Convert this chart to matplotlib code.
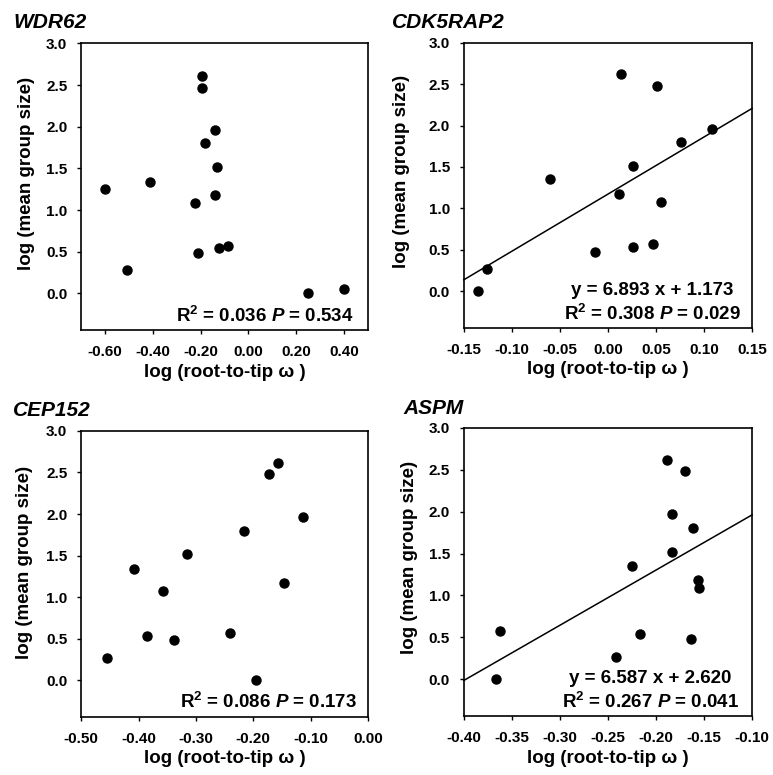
import numpy as np
import matplotlib
matplotlib.use('Agg')
import matplotlib.pyplot as plt

plt.rcParams['font.family'] = ['Liberation Sans', 'DejaVu Sans']
plt.rcParams['font.weight'] = 'bold'
plt.rcParams['mathtext.fontset'] = 'custom'
plt.rcParams['mathtext.rm'] = 'Liberation Sans:bold'
plt.rcParams['mathtext.it'] = 'Liberation Sans:bold:italic'
plt.rcParams['mathtext.bf'] = 'Liberation Sans:bold'

# data
wdr62_x = [-0.60, -0.51, -0.413, -0.195, -0.195, -0.14, -0.18, -0.133, -0.14,
           -0.223, -0.211, -0.125, -0.086, 0.25, 0.40]
wdr62_y = [1.25, 0.28, 1.34, 2.61, 2.47, 1.96, 1.80, 1.52, 1.18,
           1.08, 0.48, 0.54, 0.57, 0.00, 0.05]

cdk_x = [-0.135, -0.126, -0.060, 0.0134, 0.051, 0.108, 0.076, 0.026, 0.012,
         0.055, -0.013, 0.026, 0.047]
cdk_y = [0.00, 0.27, 1.35, 2.62, 2.48, 1.96, 1.80, 1.51, 1.17,
         1.08, 0.48, 0.53, 0.57]

cep_x = [-0.455, -0.408, -0.385, -0.358, -0.338, -0.315, -0.240, -0.216,
         -0.195, -0.173, -0.156, -0.146, -0.113]
cep_y = [0.265, 1.34, 0.535, 1.08, 0.48, 1.52, 0.565, 1.80,
         0.00, 2.48, 2.61, 1.17, 1.97]

aspm_x = [-0.367, -0.362, -0.2415, -0.225, -0.217, -0.189, -0.170, -0.183,
          -0.162, -0.183, -0.156, -0.155, -0.164]
aspm_y = [0.00, 0.57, 0.27, 1.35, 0.535, 2.62, 2.49, 1.97,
          1.81, 1.52, 1.18, 1.09, 0.485]

yticks = [0, 0.5, 1.0, 1.5, 2.0, 2.5, 3.0]

panels = [
    # name, x, y, xlim, xticks, fit (slope, intercept) or None, stats text
    ('WDR62', wdr62_x, wdr62_y, (-0.7, 0.5), [-0.6, -0.4, -0.2, 0.0, 0.2, 0.4],
     None, 'R$^2$ = 0.036 $\\mathit{P}$ = 0.534'),
    ('CDK5RAP2', cdk_x, cdk_y, (-0.15, 0.15), [-0.15, -0.10, -0.05, 0.0, 0.05, 0.10, 0.15],
     (6.893, 1.173), 'R$^2$ = 0.308 $\\mathit{P}$ = 0.029'),
    ('CEP152', cep_x, cep_y, (-0.5, 0.0), [-0.5, -0.4, -0.3, -0.2, -0.1, 0.0],
     None, 'R$^2$ = 0.086 $\\mathit{P}$ = 0.173'),
    ('ASPM', aspm_x, aspm_y, (-0.4, -0.1), [-0.40, -0.35, -0.30, -0.25, -0.20, -0.15, -0.10],
     (6.587, 2.620), 'R$^2$ = 0.267 $\\mathit{P}$ = 0.041'),
]

# axes boxes in figure fractions [left, bottom, width, height]
boxes = [
    [0.105, 0.574, 0.371, 0.370],
    [0.600, 0.577, 0.373, 0.368],
    [0.105, 0.075, 0.371, 0.369],
    [0.600, 0.076, 0.373, 0.372],
]
title_pos = [(13, 22), (392, 22), (13, 410), (403, 409)]
ylab_pos = [(-0.16, 0.545), (-0.185, 0.547), (-0.167, 0.54), (-0.16, 0.55)]
text_x = [0.951, 0.653, 0.962, 0.647]

fig = plt.figure(figsize=(7.73, 7.75), dpi=100)
W, H = 773, 775

for i, (name, x, y, xlim, xticks, fit, stats) in enumerate(panels):
    ax = fig.add_axes(boxes[i])
    ax.plot(x, y, 'o', color='black', markersize=6.5, zorder=3)
    if fit is not None:
        xx = np.array(xlim)
        ax.plot(xx, fit[0] * xx + fit[1], color='black', lw=1.1, clip_on=False)
    ax.set_xlim(*xlim)
    ax.set_ylim(-0.44, 3.0)
    ax.set_xticks(xticks)
    ax.set_xticklabels(['%.2f' % t for t in xticks])
    ax.set_yticks(yticks)
    ax.set_yticklabels(['%.1f' % t for t in yticks])
    ax.tick_params(direction='out', length=3, width=1, labelsize=11, pad=7)
    ax.tick_params(axis='x', pad=8)
    for s in ax.spines.values():
        s.set_linewidth(1.2)
    ax.set_xlabel('log (root-to-tip \u03c9 )', fontsize=13.5, fontweight='bold', labelpad=3)
    ax.set_ylabel('log (mean group size)', fontsize=13.5, fontweight='bold')
    ax.yaxis.set_label_coords(*ylab_pos[i])
    if fit is not None:
        ax.text(text_x[i], 0.116, 'y = %.3f x + %.3f' % fit, transform=ax.transAxes,
                ha='center', va='baseline', fontsize=13.5, fontweight='bold')
        ax.text(text_x[i], 0.029, stats, transform=ax.transAxes,
                ha='center', va='baseline', fontsize=13.5, fontweight='bold')
    else:
        ax.text(text_x[i], 0.03, stats, transform=ax.transAxes,
                ha='right', va='baseline', fontsize=13.5, fontweight='bold')
    fig.text(title_pos[i][0] / W, 1 - title_pos[i][1] / H, name, ha='left', va='center',
             fontsize=15, fontweight='bold', style='italic')

fig.savefig('out.png', dpi=100)
